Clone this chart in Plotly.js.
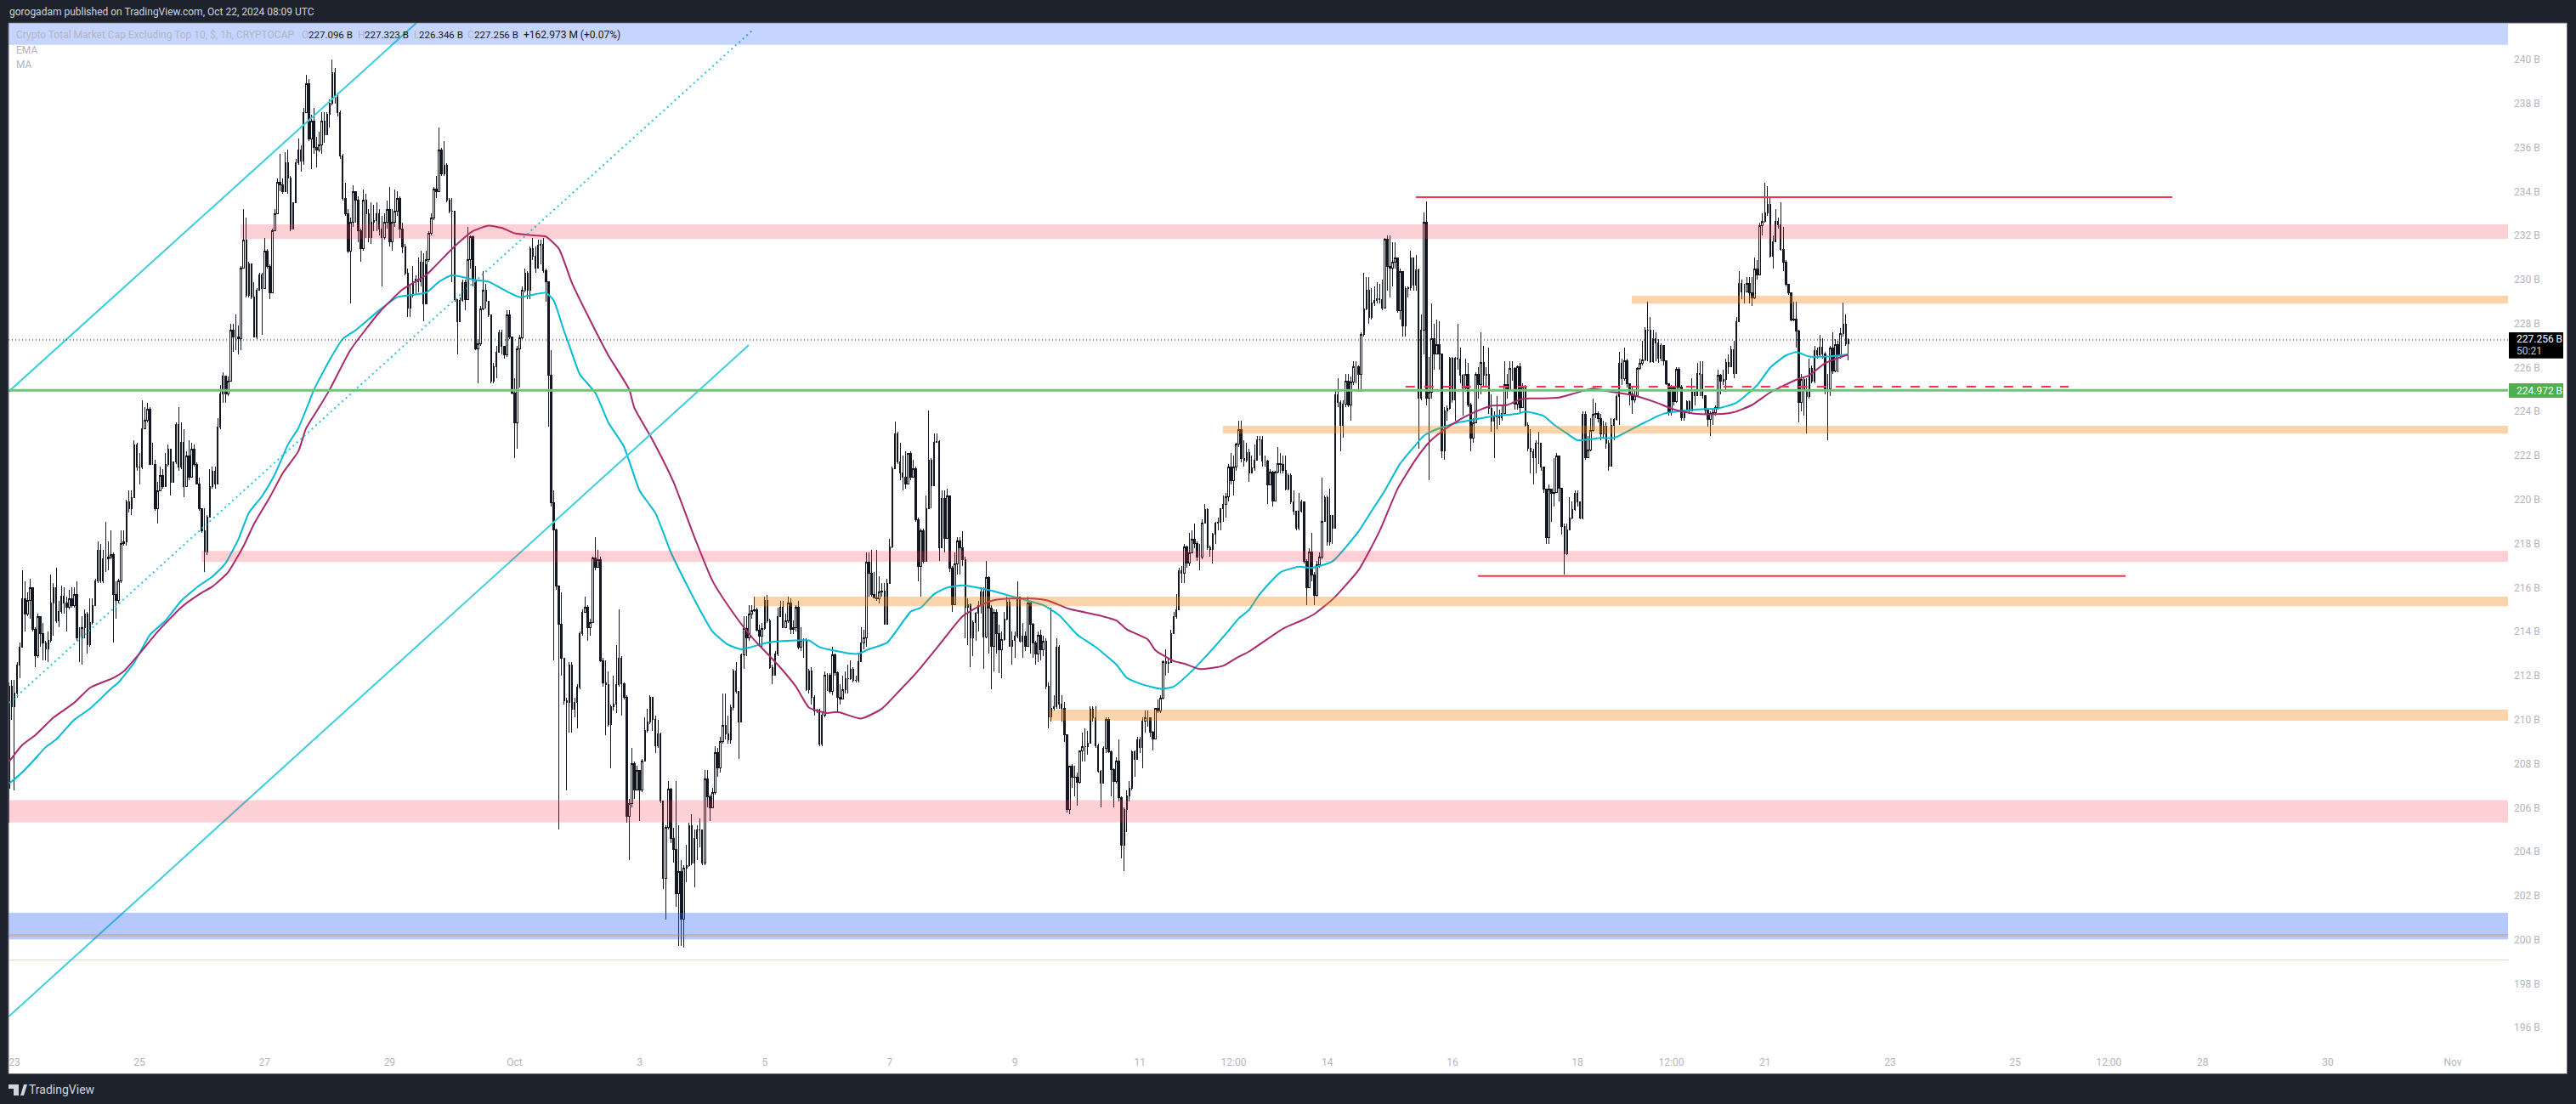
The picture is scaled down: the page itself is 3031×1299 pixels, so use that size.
<!DOCTYPE html>
<html><head><meta charset="utf-8">
<script src="https://cdn.plot.ly/plotly-3.0.1.min.js"></script>
<style>html,body{margin:0;padding:0;background:#1e222d;overflow:hidden}#c{width:3031px;height:1299px}
#c .boxlayer path{shape-rendering:crispEdges !important}</style>
</head><body><div id="c"></div>
<script>
// hourly candles, first one is 2 hours before 23 Sep 00:00 UTC; values in billions
const firstOpen = 206.9;
const closes = [
211.5,210.6,211.2,212.5,213.3,215.5,214.8,215.4,216.0,214.1,
212.9,214.7,213.9,213.5,213.2,213.6,215.3,216.0,214.5,214.9,
215.6,215.3,215.1,215.5,215.2,215.7,213.7,213.7,214.2,214.8,
213.4,214.4,215.2,216.3,217.7,216.3,217.3,217.3,217.4,217.5,
215.7,215.4,216.3,218.0,218.1,219.9,219.6,220.1,222.5,221.5,
221.5,223.2,223.6,224.1,221.6,221.6,219.6,220.4,221.1,220.6,
221.6,222.3,220.8,221.7,223.4,221.5,222.6,220.6,222.0,221.0,
222.3,221.6,220.7,219.6,218.6,217.6,219.2,220.6,221.3,220.7,
223.3,224.8,225.6,224.8,225.4,227.7,227.4,227.4,227.3,230.5,
231.8,229.3,230.7,229.2,227.4,229.5,230.2,229.6,231.3,230.6,
229.4,232.2,233.0,234.4,234.3,234.0,235.3,234.6,232.3,233.5,
235.3,235.9,235.4,237.6,238.9,236.4,237.2,236.0,235.9,236.1,
237.2,236.6,237.5,238.0,239.4,238.3,237.6,235.6,233.7,233.0,
231.3,232.6,234.0,233.6,232.2,231.4,233.6,233.0,231.9,232.6,
232.7,233.0,232.3,231.9,232.6,233.2,231.7,232.6,233.1,233.7,
232.3,231.5,230.3,228.7,229.3,229.9,230.0,229.9,230.8,228.9,
230.9,232.1,232.8,234.1,234.0,235.9,234.8,235.2,233.6,233.1,
233.1,229.1,228.1,229.05,229.85,229.1,230.9,231.95,229.96,226.85,
227.1,228.65,229.5,229.0,228.4,225.4,226.05,226.7,227.6,226.95,
226.56,228.4,227.4,224.86,223.5,226.85,227.35,229.5,230.3,229.5,
231.4,231.05,230.5,231.55,231.6,230.4,229.9,225.65,219.87,218.63,
216.09,214.32,212.78,210.85,210.8,212.5,210.47,210.8,211.49,213.91,
214.89,215.11,214.2,214.43,217.34,216.93,217.27,212.69,211.67,211.6,
209.79,210.58,210.69,211.6,212.78,211.65,211.03,205.6,206.2,208.0,
206.8,207.7,206.8,208.1,209.5,209.9,211.0,210.0,208.8,209.35,
206.3,202.8,205.1,206.85,204.6,204.1,202.1,203.1,200.95,203.25,
203.35,205.2,203.5,204.6,205.0,205.0,203.5,207.3,206.5,206.0,
206.7,208.5,207.8,209.0,209.75,209.35,209.1,210.55,212.2,211.3,
209.9,212.95,214.15,213.7,214.8,214.95,215.0,214.05,213.8,214.15,
215.4,214.5,212.35,212.0,213.0,214.7,215.1,214.2,214.5,215.3,
214.1,214.2,215.1,213.3,213.6,213.6,211.35,212.2,211.0,210.4,
210.45,208.9,210.2,212.0,212.0,211.3,212.95,212.15,211.0,210.95,
211.35,211.85,211.85,212.3,211.8,211.8,212.65,213.5,213.7,217.15,
216.65,215.7,215.55,215.5,215.8,215.85,214.35,216.2,217.85,221.4,
223.0,221.7,221.2,221.0,220.7,222.1,221.0,221.4,219.1,216.95,
218.6,217.2,219.6,221.8,220.65,222.6,222.65,217.82,220.07,218.23,
220.16,216.9,215.24,217.06,218.13,217.8,217.28,215.1,215.24,213.72,
214.41,214.82,215.17,215.79,213.76,216.45,215.06,213.35,214.89,213.93,
213.17,213.65,214.55,215.33,213.35,213.61,213.79,215.56,213.58,213.79,
213.35,215.3,214.34,213.5,212.99,213.82,213.17,213.58,211.51,210.13,
210.52,210.6,213.3,210.69,210.52,209.3,205.93,207.89,207.38,207.4,
207.14,208.57,208.78,208.78,208.93,210.48,210.07,208.82,207.65,207.1,
208.69,210.0,208.55,207.72,207.2,208.13,206.45,204.31,205.9,206.55,
206.87,208.55,208.2,209.1,208.75,209.93,210.07,210.07,209.44,209.13,
210.5,210.41,210.96,212.62,212.55,212.6,213.93,214.69,215.0,216.75,
216.66,217.86,217.13,217.58,218.18,218.0,217.38,217.38,218.94,219.56,
217.82,217.72,218.44,218.92,218.96,219.58,219.79,220.11,221.49,220.85,
221.49,222.51,223.17,221.86,221.79,222.13,221.2,221.46,221.78,222.72,
222.72,221.74,221.74,220.66,221.26,219.94,221.26,221.65,221.6,221.33,
220.47,221.1,219.88,219.46,218.69,219.46,219.88,217.21,216.0,217.62,
216.56,215.66,217.05,217.4,219.0,220.1,218.1,219.27,218.7,224.78,
224.42,223.39,224.35,225.38,224.29,225.34,226.03,226.03,225.7,227.5,
228.67,229.5,228.28,228.92,229.05,229.12,229.1,228.7,231.82,230.6,
230.53,230.8,231.0,228.6,230.38,227.9,229.6,229.63,230.98,229.73,
230.44,224.6,227.7,232.6,224.6,224.87,227.3,226.63,227.06,226.63,
222.23,224.03,224.13,226.41,224.55,226.41,226.4,225.64,225.06,225.7,
224.29,222.8,223.5,225.7,225.23,226.22,225.64,225.7,224.13,223.58,
223.77,223.84,223.71,223.9,225.23,225.0,225.96,225.96,224.35,226.03,
224.2,225.13,223.39,222.33,222.16,221.91,222.55,222.55,221.48,220.49,
218.26,220.49,220.3,220.32,222.0,220.5,218.76,217.53,218.63,219.17,
219.56,220.3,219.9,219.17,223.88,221.9,222.26,223.16,223.88,223.9,
223.68,222.98,223.33,222.56,221.53,223.39,223.65,224.68,226.2,225.48,
226.3,225.26,224.81,224.53,224.74,225.97,226.2,226.33,227.7,227.7,
226.26,227.32,227.13,226.42,227.0,226.3,225.26,223.95,225.07,224.45,
225.93,225.13,223.72,224.04,224.45,224.04,224.87,224.71,225.74,225.68,
224.71,224.06,223.65,223.91,223.97,224.19,225.64,225.39,225.45,226.23,
226.03,226.8,225.74,228.09,229.83,229.45,229.45,229.83,229.38,229.16,
230.47,230.22,232.43,232.66,233.01,233.41,231.05,231.72,232.66,232.47,
231.38,230.8,229.77,229.38,228.18,228.2,227.67,224.42,225.45,225.0,
224.68,225.97,225.39,226.77,226.57,226.93,226.61,225.04,225.04,226.87,
225.86,227.06,226.58,227.55,227.98,227.1,227.256];
const highs = [
211.7,211.8,211.8,212.6,213.5,216.8,216.3,215.8,216.4,216.0,
214.2,214.8,214.7,214.4,213.6,214.0,216.6,216.2,216.9,215.4,
216.1,216.0,215.6,215.9,216.0,216.0,216.3,214.2,214.7,215.0,
214.9,215.5,215.5,216.4,218.1,218.0,217.7,219.0,218.1,218.6,
217.6,216.3,216.4,218.6,218.6,220.0,220.4,220.4,222.7,222.6,
222.1,224.5,224.2,224.4,224.2,222.6,221.8,220.8,221.5,221.4,
222.1,222.5,222.3,221.7,223.5,224.2,223.5,223.2,222.2,222.7,
222.6,222.5,221.7,221.0,219.6,219.6,219.3,221.4,221.5,221.5,
223.7,225.2,225.8,225.6,225.6,228.0,228.0,228.4,227.9,230.6,
233.2,232.8,230.8,230.7,229.9,229.6,230.3,230.3,231.9,231.4,
230.7,232.3,233.2,234.6,235.7,234.6,235.8,235.9,234.7,233.5,
235.5,236.4,236.1,237.8,239.3,239.1,237.5,237.8,236.5,236.7,
237.6,237.6,237.6,238.2,240.0,239.6,238.5,237.7,235.7,234.4,
233.2,232.8,234.3,234.0,233.8,232.3,234.1,233.9,233.2,233.5,
233.4,233.5,233.2,232.9,233.0,233.6,234.2,233.2,234.1,234.0,
233.8,232.6,231.6,230.5,229.8,230.6,230.2,231.0,231.3,231.2,
231.3,232.2,233.0,234.2,234.7,236.9,236.0,236.3,235.3,233.7,
233.7,233.1,229.1,229.2,230.0,230.0,232.4,232.0,232.0,230.6,
227.3,228.8,230.4,229.8,229.0,228.4,226.2,227.0,227.7,227.7,
227.0,228.6,228.6,227.4,225.5,227.0,227.5,229.7,230.5,230.4,
231.5,231.9,231.5,231.8,231.8,231.9,230.5,229.9,226.8,220.4,
218.7,216.1,215.8,212.8,211.0,212.6,212.6,211.0,211.6,214.0,
215.0,215.6,215.2,214.6,217.4,218.3,217.7,217.4,212.8,212.7,
212.2,210.7,212.0,213.4,215.0,212.9,211.7,211.1,206.4,208.7,
208.1,207.9,207.7,208.2,210.1,210.5,211.1,211.0,210.2,210.0,
209.4,206.3,205.2,207.2,206.9,205.1,207.2,205.2,203.6,203.4,
204.3,205.3,205.7,205.0,205.2,205.5,205.0,207.7,207.7,206.6,
206.9,208.8,208.7,209.2,211.2,211.2,210.2,210.7,212.3,212.6,
211.3,213.0,214.7,214.7,215.2,215.2,215.6,215.1,214.3,214.4,
215.6,215.65,214.6,212.5,213.1,215.1,215.4,215.4,214.8,215.6,
215.5,214.5,215.2,215.4,214.2,213.7,213.7,212.3,212.4,211.1,
210.5,210.5,210.3,212.2,212.1,212.1,213.3,213.0,212.2,211.6,
212.0,212.2,212.5,212.7,212.4,212.0,213.0,214.2,214.1,217.6,
217.6,217.7,216.7,217.7,216.5,216.2,216.2,216.4,218.2,221.5,
223.55,223.1,222.6,222.0,222.2,222.1,222.2,221.8,221.5,219.2,
218.7,218.7,220.2,224.05,221.9,223.0,223.0,222.7,220.4,220.4,
220.5,220.2,217.0,217.6,218.3,218.3,218.55,217.4,215.5,215.3,
214.5,214.9,215.4,216.0,216.0,217.2,216.5,215.2,215.0,215.0,
214.3,214.0,214.9,215.6,215.5,214.0,214.0,216.3,215.6,214.4,
214.0,215.6,215.4,214.4,213.6,214.0,214.1,213.8,213.7,211.7,
215.1,211.1,213.7,213.4,211.1,210.8,209.3,207.9,208.0,207.9,
207.6,208.6,209.4,209.6,209.5,210.6,210.6,210.6,208.9,207.7,
208.8,210.1,210.1,208.6,207.8,208.3,209.1,206.5,206.0,206.8,
207.2,208.6,208.6,209.2,209.2,210.1,210.4,210.4,210.1,209.5,
210.5,210.9,211.1,212.7,213.2,212.8,214.1,214.9,215.7,216.9,
217.0,218.0,217.9,218.5,218.6,218.9,218.1,218.0,219.1,219.8,
219.6,217.9,218.5,219.0,219.2,219.6,220.2,220.3,221.6,222.1,
222.0,222.6,223.6,223.6,222.7,222.6,222.3,222.0,222.5,222.9,
222.9,222.9,222.0,221.8,221.4,221.3,221.3,222.4,222.1,222.0,
222.0,221.2,221.2,220.4,219.5,220.3,220.0,219.9,217.3,217.8,
218.5,216.7,217.2,217.6,221.0,220.2,220.2,220.5,219.3,224.95,
225.5,224.5,224.5,225.7,225.7,225.6,226.3,226.3,226.1,227.6,
230.3,230.1,230.1,229.6,229.7,229.9,229.8,230.0,231.9,232.0,
232.0,231.7,231.7,231.0,230.5,230.4,229.7,229.7,231.3,231.0,
231.1,230.5,228.4,233.05,233.55,226.5,228.9,228.0,228.2,228.1,
225.9,224.2,224.3,226.5,226.5,226.5,228.0,226.9,225.7,226.4,
226.2,224.4,223.7,225.8,226.0,227.6,227.0,226.0,226.9,224.8,
224.0,224.7,224.1,224.3,226.3,225.7,226.3,226.3,226.0,226.1,
226.2,225.3,225.2,223.5,223.2,222.3,222.7,223.1,222.6,221.5,
220.5,220.7,220.5,221.9,222.1,222.0,220.5,218.9,218.9,220.1,
219.9,220.4,220.4,219.9,224.0,224.0,222.9,223.7,224.6,224.4,
224.0,223.9,223.6,223.5,222.7,223.7,223.7,224.8,226.7,226.4,
226.9,226.4,225.3,225.1,225.0,226.0,226.4,227.2,227.85,229.0,
228.3,227.7,227.6,227.3,227.1,227.0,226.3,225.3,225.2,225.1,
226.0,226.0,225.2,224.1,224.5,224.5,225.5,225.0,226.2,226.3,
226.3,224.7,224.0,224.0,224.1,224.3,225.9,225.7,225.9,226.4,
226.6,227.0,227.2,228.3,230.4,230.0,229.8,230.1,230.1,230.1,
231.0,230.9,232.6,233.0,234.4,234.25,233.7,232.0,233.2,232.8,
233.5,232.4,230.9,229.8,229.4,229.0,229.0,227.7,225.7,225.6,
225.5,226.4,226.1,227.0,226.9,227.5,227.35,226.7,225.7,227.0,
227.6,227.3,227.2,227.8,228.95,228.4,227.323];
const lows = [
205.3,210.0,206.8,211.0,211.9,213.3,214.0,214.7,214.6,214.0,
212.4,212.8,213.3,212.7,212.7,212.6,213.5,213.8,214.4,214.2,
214.8,214.8,214.0,215.0,215.1,215.1,213.6,212.6,212.5,213.7,
213.0,213.3,214.3,215.2,216.2,216.2,216.2,216.7,216.8,217.3,
213.5,214.6,215.3,216.2,217.9,217.9,219.4,219.3,220.1,221.3,
220.7,221.4,223.2,223.5,221.6,221.6,219.5,218.9,220.4,220.5,
220.6,221.5,220.2,220.8,221.6,221.3,221.4,220.1,220.6,220.9,
221.0,221.5,220.7,219.5,218.5,216.7,217.5,219.2,220.5,220.5,
220.7,223.2,224.4,224.4,224.7,225.4,226.7,226.8,226.6,226.8,
230.5,229.2,229.2,229.1,227.4,227.3,229.5,227.5,229.6,230.5,
229.1,229.4,232.2,233.0,234.0,233.9,234.0,233.9,232.2,232.3,
233.5,235.2,234.9,235.2,237.6,236.3,235.0,235.7,235.1,235.8,
235.7,236.2,236.6,236.9,237.9,238.0,237.4,235.5,233.6,232.9,
231.2,228.9,232.4,232.6,231.7,230.8,231.3,231.9,231.7,231.6,
232.2,232.2,232.0,229.7,231.8,232.3,231.5,231.3,232.4,232.9,
231.9,231.2,230.2,228.3,228.3,229.2,229.3,229.4,229.7,228.1,
230.7,230.8,232.0,232.7,233.7,234.0,234.7,234.7,233.5,233.0,
229.9,229.0,226.6,228.1,229.0,228.6,229.1,230.5,229.7,226.8,
225.3,227.0,228.6,228.7,228.3,225.3,225.3,225.5,226.7,226.6,
226.4,226.5,227.3,224.8,221.9,222.3,225.1,227.3,229.4,229.1,
229.1,230.9,230.3,230.5,230.7,230.3,229.0,223.3,219.7,212.7,
215.9,205.0,212.0,210.7,206.8,209.4,209.4,210.1,209.6,211.4,
213.8,214.9,213.6,213.8,214.4,216.8,216.9,212.6,211.5,209.3,
209.7,207.8,210.4,210.3,211.5,210.2,210.9,205.3,203.6,206.0,
206.4,206.8,205.4,206.7,208.1,209.4,209.8,209.5,208.5,208.7,
206.2,202.3,200.9,205.0,204.4,203.5,201.5,199.7,199.7,199.65,
202.6,203.3,203.4,202.4,203.6,204.2,203.4,203.4,206.0,205.4,
206.0,206.6,207.4,207.6,208.9,209.1,208.9,208.9,210.4,211.2,
208.2,209.9,212.3,212.9,213.6,214.6,214.9,214.0,213.3,213.3,
214.1,214.4,212.3,211.6,212.0,212.9,214.7,214.2,214.2,214.4,
213.9,213.9,214.0,213.2,213.1,212.8,211.3,211.2,210.7,210.2,
210.3,208.8,208.8,210.1,211.3,211.2,211.1,212.0,210.3,210.7,
210.9,211.2,211.2,211.8,211.7,211.7,211.7,212.6,213.2,213.3,
215.6,215.6,215.5,215.4,215.3,215.6,214.3,214.3,216.2,217.8,
221.4,221.6,220.9,220.4,220.5,220.7,220.9,221.0,219.0,216.3,
215.6,217.1,217.2,219.6,219.6,220.6,222.6,217.2,217.8,217.6,
218.2,216.7,214.9,215.2,216.6,216.6,217.0,213.7,213.4,212.4,
212.9,213.6,214.0,214.8,212.3,213.7,213.0,211.4,212.2,213.0,
212.1,211.9,213.6,214.5,213.3,212.5,212.8,213.7,213.5,212.8,
213.1,213.3,213.0,212.8,212.5,212.6,212.7,212.9,211.4,209.6,
209.9,210.4,210.5,210.5,209.9,209.0,205.8,205.7,206.9,206.5,
206.1,207.1,208.1,208.1,208.4,208.9,209.9,208.7,207.6,206.0,
207.1,208.5,208.5,206.5,206.0,207.1,206.3,203.7,203.1,204.9,
206.3,206.8,207.4,208.2,208.5,207.8,209.4,209.7,209.2,208.6,
209.1,210.3,210.3,210.9,212.0,212.1,212.6,213.9,214.6,215.0,
216.2,216.2,216.9,217.0,217.6,217.8,217.2,216.8,217.3,218.9,
217.7,217.4,217.1,218.0,218.6,218.6,219.0,219.2,219.9,220.7,
220.2,221.3,222.4,221.7,221.5,221.7,220.8,221.2,221.3,221.8,
222.0,221.5,221.5,219.8,220.7,219.7,219.9,221.2,221.2,221.2,
220.4,220.4,219.8,219.3,218.6,218.6,219.4,217.1,215.2,216.0,
216.3,215.2,215.6,216.9,217.3,219.0,217.9,217.9,218.0,218.7,
224.2,222.2,222.8,224.2,224.2,223.6,225.2,225.3,224.9,224.9,
227.4,228.6,228.0,228.2,228.8,228.9,228.9,228.6,228.7,229.5,
229.2,229.7,230.5,228.5,228.2,227.4,227.4,229.2,229.5,229.5,
229.5,222.3,224.5,226.6,224.3,220.9,224.6,225.9,226.6,225.9,
221.9,221.8,223.6,224.1,224.4,223.6,225.9,225.3,223.8,224.9,
224.2,222.2,222.6,223.5,224.6,224.8,225.1,225.1,223.9,223.1,
221.9,223.2,223.4,223.6,223.9,224.6,225.0,225.4,224.1,224.1,
223.9,224.2,223.3,222.2,221.2,220.7,221.2,221.6,221.3,220.3,
218.0,218.0,219.0,219.7,220.3,219.9,218.4,216.6,217.5,218.6,
219.1,219.5,219.7,219.1,219.1,221.8,221.9,222.2,223.1,223.7,
223.5,222.7,222.8,222.3,221.3,221.5,222.7,223.6,223.4,225.2,
225.4,225.1,224.3,223.9,224.4,224.7,225.9,226.1,226.3,226.3,
226.2,226.2,226.3,226.2,226.3,226.1,225.2,223.8,223.8,224.3,
224.4,225.0,223.6,223.6,224.0,223.9,224.0,224.3,224.7,224.7,
224.6,223.9,223.3,222.9,223.4,223.8,224.1,224.8,225.2,224.9,
225.7,226.0,225.5,225.7,228.1,229.1,228.9,229.4,228.9,228.8,
229.1,230.0,230.2,232.0,232.6,232.9,231.0,230.5,231.7,232.3,
231.3,230.4,229.7,229.3,228.1,228.1,226.9,223.5,224.0,223.8,
223.0,224.6,225.3,225.3,226.4,226.5,226.4,224.8,222.7,224.7,
225.7,225.8,225.8,226.4,227.4,227.0,226.346];

// indicator readings: hour since 23 Sep 00:00, value
const emaHours = [-2,2,7,12,16,23,29,37,40,46,52,58,64,71,76,81,86,90,95,100,105,109,113,115,121,126,131,140,147,158,163,168,176,182,190,194,204,207,211,213,217,223,228,234,240,246,252,258,264,268,274,279,289,300,305,309,321,324,328,335,344,348,353,358,364,375,386,395,401,408,415,423,427,433,440,445,451,458,465,470,474,478,486,493,498,506,516,520,526,532,538,541,546,554,561,568,577,580,587,591,596,600,609,614,624,633,646,654,661,669,674,680,684,689,696,704];
const emaValues = [207.1,207.5,208.1,208.75,209.1,210.0,210.5,211.4,211.7,212.6,213.85,214.5,215.4,216.1,216.5,217.1,218.2,219.4,220.15,221.15,222.5,223.25,224.4,225.0,226.35,227.3,227.7,228.6,229.2,229.4,229.9,230.2,230.0,229.9,229.4,229.2,229.4,229.05,227.65,227.0,225.7,224.85,223.5,222.4,220.4,219.4,217.6,216.15,214.8,214.0,213.4,213.2,213.5,213.6,213.6,213.3,213.0,213.0,213.2,213.5,214.9,215.1,215.7,216.0,216.1,215.86,215.5,215.2,214.75,213.86,213.3,212.5,211.9,211.6,211.4,211.5,212.1,212.96,213.9,214.6,215.0,215.7,216.7,216.95,216.9,217.2,218.56,219.3,220.4,221.65,222.5,222.9,223.2,223.5,223.65,223.8,223.9,224.0,223.8,223.4,223.0,222.7,222.8,222.8,223.4,223.9,224.1,224.15,224.4,225.2,226.0,226.55,226.7,226.5,226.5,226.6];
const maHours = [-2,3,8,15,23,29,38,42,48,55,64,71,76,82,88,92,98,103,109,112,117,121,129,140,149,158,168,176,182,187,192,200,204,209,214,221,228,236,238,245,253,261,268,275,283,293,300,305,312,316,325,333,340,346,353,358,364,371,375,382,391,397,405,416,423,427,435,438,445,449,455,464,469,474,487,494,499,506,516,524,531,538,543,548,555,563,567,573,578,582,587,593,598,606,613,621,630,637,645,653,660,667,674,684,689,695,704];
const maValues = [208.1,208.85,209.3,210.1,210.77,211.45,211.9,212.2,213.0,214.0,215.1,215.7,216.05,216.7,217.9,218.9,220.1,221.2,222.2,223.25,224.2,225.0,226.8,228.5,229.55,230.2,231.4,232.2,232.45,232.35,232.1,232.0,231.95,231.4,229.85,228.15,226.55,225.0,224.16,222.7,220.8,218.3,216.3,215.0,213.75,212.5,211.5,210.55,210.3,210.35,210.05,210.5,211.35,212.1,213.1,213.85,214.7,215.2,215.4,215.5,215.5,215.4,215.03,214.75,214.5,214.1,213.65,213.15,212.66,212.55,212.3,212.45,212.8,213.1,214.14,214.5,214.8,215.47,216.8,218.56,220.5,221.84,222.6,223.1,223.65,224.1,224.27,224.3,224.55,224.6,224.6,224.64,224.8,225.04,224.9,224.75,224.42,224.1,223.9,223.88,223.97,224.3,224.87,225.45,225.65,226.2,226.6];

// drawings: [start hour, low, high]
const leftEdgeHour = -2.28, rightEdgeHour = 957.2;
const legendBar = [leftEdgeHour, 240.67, 241.63];
const pinkZones = [[86.8,231.85,232.51],[71.8,217.17,217.67],[leftEdgeHour,205.33,206.34]];
const orangeZones = [[620.8,228.91,229.26],[463.9,223.0,223.35],[283.8,215.16,215.59],[397.2,209.95,210.45]];
const blueZone = [leftEdgeHour,200.02,201.22];
const redLines = [[538,828.3,233.74],[561.8,810.4,216.53]];
const redDashed = [534,788.5,225.13];
const lastPrice = 227.256, greenLevel = 224.97, brownLevel = 200.2, thinLevel = 199.08;
const channelHigh = {h:[-2.28,154.3], v:[224.9,241.66]};
const channelMid = {h:[-2,283.5], v:[210.76,241.35]};
const channelLow = {h:[-2.28,281.9], v:[196.5,227.02]};

const priceTicks = [196,198,200,202,204,206,208,210,212,214,216,218,220,222,224,226,228,230,232,234,236,238,240];
const priceLabels = priceTicks.map(v=>v+' B');
const timeTicks = ['2024-09-23','2024-09-25','2024-09-27','2024-09-29','2024-10-01','2024-10-03','2024-10-05','2024-10-07','2024-10-09','2024-10-11','2024-10-12T12:00','2024-10-14','2024-10-16','2024-10-18','2024-10-19T12:00','2024-10-21','2024-10-23','2024-10-25','2024-10-26T12:00','2024-10-28','2024-10-30','2024-11-01'];
const timeLabels = ['23','25','27','29','Oct','3','5','7','9','11','12:00','14','16','18','12:00','21','23','25','12:00','28','30','Nov'];

const T0 = Date.UTC(2024,8,23);
const dt = h => new Date(T0 + h*3600000).toISOString().slice(0,19);
const L=10, T=27, W=2941, H=1211;
const xp = p => (p-L)/W, yp = p => 1-(p-T)/H;

const candleX = closes.map((_,i)=>dt(i-2));
const opens = closes.map((_,i)=> i ? closes[i-1] : firstOpen);

const traces = [
 {type:'candlestick',x:candleX,open:opens,high:highs,low:lows,close:closes,whiskerwidth:0,
  increasing:{line:{color:'#131722',width:1},fillcolor:'#ffffff'},
  decreasing:{line:{color:'#131722',width:1},fillcolor:'#131722'},hoverinfo:'skip',showlegend:false},
 {type:'scatter',mode:'lines',x:emaHours.map(dt),y:emaValues,line:{color:'#00bcd4',width:2,shape:'spline',smoothing:0.5},hoverinfo:'skip',showlegend:false},
 {type:'scatter',mode:'lines',x:maHours.map(dt),y:maValues,line:{color:'#a9296f',width:2,shape:'spline',smoothing:0.5},hoverinfo:'skip',showlegend:false},
 {type:'scatter',mode:'lines',x:channelHigh.h.map(dt),y:channelHigh.v,line:{color:'#3bcfe0',width:2},hoverinfo:'skip',showlegend:false},
 {type:'scatter',mode:'lines',x:channelMid.h.map(dt),y:channelMid.v,line:{color:'#22c5dc',width:2,dash:'2px 4px'},hoverinfo:'skip',showlegend:false},
 {type:'scatter',mode:'lines',x:channelLow.h.map(dt),y:channelLow.v,line:{color:'#3bcfe0',width:2},hoverinfo:'skip',showlegend:false}
];

const zoneShape = (z,color)=>({type:'rect',xref:'x',yref:'y',x0:dt(z[0]),x1:dt(rightEdgeHour),y0:z[1],y1:z[2],fillcolor:color,line:{width:0},layer:'above'});
const level = (y,color,width,dash)=>({type:'line',xref:'x',yref:'y',x0:dt(leftEdgeHour),x1:dt(rightEdgeHour),y0:y,y1:y,line:{color,width,dash:dash||'solid'},layer:'above'});
const pxRect = (x0,y0,x1,y1,fill,layer,line)=>({type:'rect',xref:'paper',yref:'paper',x0:xp(x0),x1:xp(x1),y0:yp(y0),y1:yp(y1),fillcolor:fill,line:line||{width:0},layer});
const pxPath = (pts,fill)=>({type:'path',xref:'paper',yref:'paper',path:'M'+pts.map(p=>xp(p[0])+','+yp(p[1])).join('L')+'Z',fillcolor:fill,line:{width:0},layer:'above'});

const shapes = [
 pxRect(2951,27,3020,1263,'#ffffff','below'),
 pxRect(10,1238,2951,1263,'#ffffff','below'),
 zoneShape(legendBar,'rgba(41,98,255,0.27)'),
 ...pinkZones.map(z=>zoneShape(z,'rgba(242,54,69,0.23)')),
 ...orangeZones.map(z=>zoneShape(z,'rgba(245,124,0,0.33)')),
 zoneShape(blueZone,'rgba(41,98,255,0.34)'),
 level(brownLevel,'rgba(245,124,0,0.33)',3),
 level(thinLevel,'rgba(245,124,0,0.33)',1),
 level(lastPrice,'#131722',1,'1px 3px'),
 level(greenLevel,'#6fc276',3),
 ...redLines.map(r=>({type:'line',xref:'x',yref:'y',x0:dt(r[0]),x1:dt(r[1]),y0:r[2],y1:r[2],line:{color:'#f23645',width:2},layer:'above'})),
 {type:'line',xref:'x',yref:'y',x0:dt(redDashed[0]),x1:dt(redDashed[1]),y0:redDashed[2],y1:redDashed[2],line:{color:'#f23645',width:2,dash:'11px 11px'},layer:'above'},
 pxRect(2952,391,3016,421.7,'#000000','above'),
 pxRect(2952,451,3016,468,'#4caf50','above'),
 pxRect(10,27,3020.5,1263.5,'rgba(0,0,0,0)','above',{color:'#6a6d78',width:1}),
 pxPath([[10,1276],[22,1276],[22,1289],[16,1289],[16,1281],[10,1281]],'#d1d4dc'),
 pxPath([[24,1289],[28,1276],[32,1276],[28,1289]],'#d1d4dc')
];

const FONT='Roboto, sans-serif';
const label=(x,y,text,color,size)=>({xref:'paper',yref:'paper',x:xp(x),y:yp(y),xanchor:'left',yanchor:'middle',text,showarrow:false,align:'left',borderpad:0,font:{family:FONT,size:size||12,color}});
const annotations=[
 label(10,14,'gorogadam published on TradingView.com, Oct 22, 2024 08:09 UTC','#d1d4dc',12),
 label(18,41,'Crypto Total Market Cap Excluding Top 10, $, 1h, CRYPTOCAP','#b2b5be',12),
 label(354,41,'O','#b2b5be',12),label(362,41,'227.096 B','#131722',11.5),
 label(420,41,'H','#b2b5be',12),label(428,41,'227.323 B','#131722',11.5),
 label(486,41,'L','#b2b5be',12),label(492,41,'226.346 B','#131722',11.5),
 label(549,41,'C','#b2b5be',12),label(557,41,'227.256 B','#131722',11.5),
 label(615,41,'+162.973 M (+0.07%)','#131722',12),
 label(18,59,'EMA','#b2b5be',12),
 label(18,76,'MA','#b2b5be',12),
 label(2960,399,'227.256 B','#ffffff',12),
 label(2960,413,'50:21','#c8c8c8',12),
 label(2960,459.5,'224.972 B','#ffffff',12),
 label(33,1282,'TradingView','#d1d4dc',14)
];

Plotly.newPlot('c',traces,{
 width:3031,height:1299,autosize:false,
 paper_bgcolor:'#1e222d',plot_bgcolor:'#ffffff',
 margin:{l:L,r:3031-L-W,t:T,b:1299-T-H,pad:0},
 showlegend:false,hovermode:false,dragmode:false,
 font:{family:FONT},
 xaxis:{type:'date',range:[dt(leftEdgeHour),dt(rightEdgeHour)],rangeslider:{visible:false},showgrid:false,zeroline:false,showline:false,ticks:'',tickmode:'array',tickvals:timeTicks,ticktext:timeLabels,tickangle:0,ticklabelstandoff:3,tickfont:{family:FONT,size:12,color:'#b2b5be'}},
 yaxis:{side:'right',range:[194.89,241.66],showgrid:false,zeroline:false,showline:false,ticks:'',tickmode:'array',tickvals:priceTicks,ticktext:priceLabels,ticklabelstandoff:6,tickfont:{family:FONT,size:12,color:'#b2b5be'}},
 shapes,annotations
},{staticPlot:true,displayModeBar:false});
</script></body></html>
